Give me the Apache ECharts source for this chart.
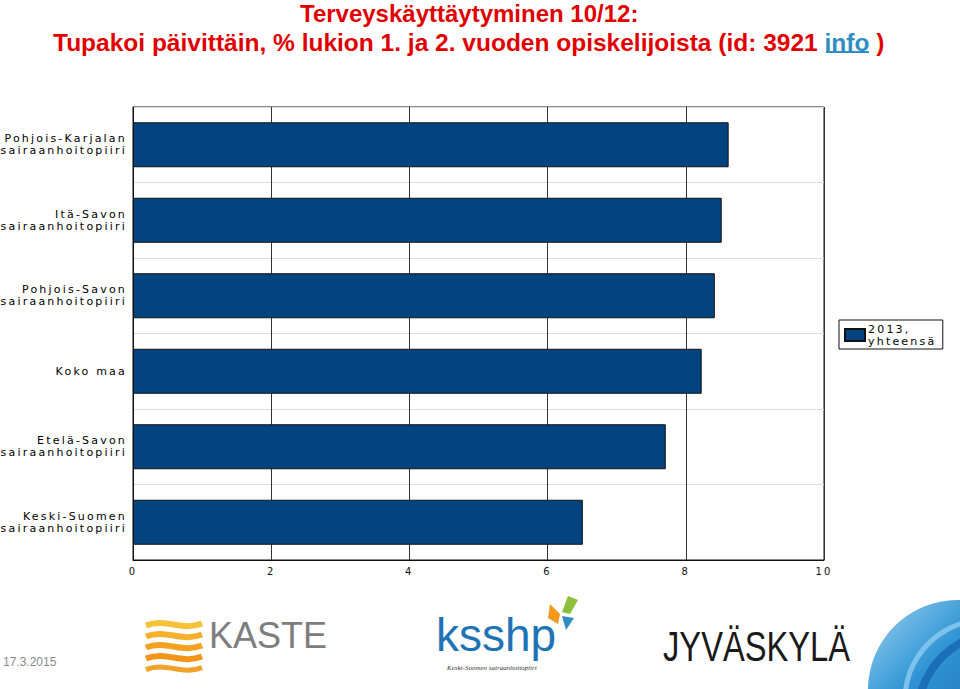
<!DOCTYPE html>
<html>
<head>
<meta charset="utf-8">
<script src="https://cdn.jsdelivr.net/npm/echarts@6/dist/echarts.min.js"></script>
<style>
html,body{margin:0;padding:0;background:#fff;}
#c{width:960px;height:689px;}
#c svg text[style*="DejaVu Sans"]{letter-spacing:2.2px;}
</style>
</head>
<body>
<div id="c"></div>
<script>
var categories = ['Pohjois-Karjalan\nsairaanhoitopiiri', 'Itä-Savon\nsairaanhoitopiiri', 'Pohjois-Savon\nsairaanhoitopiiri', 'Koko maa', 'Etelä-Savon\nsairaanhoitopiiri', 'Keski-Suomen\nsairaanhoitopiiri'];
var values = [8.62, 8.52, 8.42, 8.23, 7.71, 6.51];
var seriesName = '2013,\nyhteensä';
var xTicks = [0, 2, 4, 6, 8, 10];

var chart = echarts.init(document.getElementById('c'), null, {renderer: 'svg'});
var t1Font = 'bold 24px "Liberation Sans", Arial, sans-serif';
var t2Font = 'bold 24.5px "Liberation Sans", Arial, sans-serif';
var option = {
  animation: false,
  backgroundColor: '#ffffff',
  grid: {left: 133, right: 136, top: 107, bottom: 129, show: true, borderColor: '#111', borderWidth: 1, backgroundColor: 'transparent'},
  legend: {
    left: 839, top: 320, orient: 'vertical',
    borderColor: '#111', borderWidth: 1, padding: [3, 24, 2, 5],
    itemWidth: 20, itemHeight: 12, itemGap: 0, icon: 'rect',
    textStyle: {fontFamily: 'DejaVu Sans', fontSize: 11, lineHeight: 12, color: '#000', padding: [0, 0, 0, -2]},
    data: [seriesName]
  },
  xAxis: {
    type: 'value', min: xTicks[0], max: xTicks[xTicks.length - 1], interval: 2,
    axisLine: {show: true, lineStyle: {color: '#111', width: 1}},
    axisTick: {show: false},
    axisLabel: {fontFamily: 'DejaVu Sans', fontSize: 10, color: '#111', margin: 6},
    splitLine: {show: true, lineStyle: {color: '#333', width: 1}}
  },
  yAxis: {
    type: 'category', inverse: true, data: categories,
    axisLine: {show: true, lineStyle: {color: '#111', width: 1}},
    axisTick: {show: false},
    axisLabel: {fontFamily: 'DejaVu Sans', fontSize: 11, lineHeight: 12, color: '#000', margin: 6, align: 'right'},
    splitLine: {show: true, lineStyle: {color: '#dddddd', width: 1}}
  },
  series: [{
    name: seriesName, type: 'bar', data: values, barWidth: 45,
    itemStyle: {color: '#03437f', borderColor: '#111', borderWidth: 1}
  }],
  graphic: [
    {type: 'text', left: 300, top: 1, z: 10, style: {text: 'Terveyskäyttäytyminen 10/12:', font: t1Font, fill: '#e00000'}},
    {type: 'text', left: 53, top: 30, z: 10, style: {
      text: '{r|Tupakoi päivittäin, % lukion 1. ja 2. vuoden opiskelijoista (id: 3921 }{i|info}{r| )}',
      font: t2Font,
      rich: {r: {font: t2Font, fill: '#e00000'}, i: {font: t2Font, fill: '#2f8dc2'}}
    }},
    {type: 'line', z: 10, shape: {x1: 826, y1: 52, x2: 869, y2: 52}, style: {stroke: '#2f8dc2', lineWidth: 2}},
    {type: 'text', left: 3, top: 656, style: {text: '17.3.2015', font: '12px "Liberation Sans", Arial', fill: '#8a8a8a'}},
    {type: 'group', left: 143, top: 620, children: [
      {type: 'bezierCurve', shape: {x1: 0, y1: 4, cpx1: 20, cpy1: -4, cpx2: 35, cpy2: 10, x2: 56, y2: 2}, style: {stroke: '#f7c23a', lineWidth: 6, fill: null}},
      {type: 'bezierCurve', shape: {x1: 0, y1: 15, cpx1: 20, cpy1: 7, cpx2: 35, cpy2: 21, x2: 56, y2: 13}, style: {stroke: '#f6b12c', lineWidth: 6, fill: null}},
      {type: 'bezierCurve', shape: {x1: 0, y1: 26, cpx1: 20, cpy1: 18, cpx2: 35, cpy2: 32, x2: 56, y2: 24}, style: {stroke: '#f4a11f', lineWidth: 6, fill: null}},
      {type: 'bezierCurve', shape: {x1: 0, y1: 37, cpx1: 20, cpy1: 29, cpx2: 35, cpy2: 43, x2: 56, y2: 35}, style: {stroke: '#f29418', lineWidth: 6, fill: null}},
      {type: 'bezierCurve', shape: {x1: 0, y1: 48, cpx1: 20, cpy1: 40, cpx2: 35, cpy2: 54, x2: 56, y2: 46}, style: {stroke: '#f0a22a', lineWidth: 5, fill: null}}
    ]},
    {type: 'text', left: 209, top: 617, style: {text: 'KASTE', font: '36px "Liberation Sans", Arial', fill: '#7d7d7d'}},
    {type: 'text', left: 436, top: 612, style: {text: 'ksshp', font: '46px "Liberation Sans", Arial', fill: '#1d73b6'}},
    {type: 'polygon', shape: {points: [[562, 612], [568, 596], [578, 600], [570, 614]]}, style: {fill: '#8dbf3c'}},
    {type: 'polygon', shape: {points: [[560, 614], [550, 604], [548, 618], [558, 624]]}, style: {fill: '#f39a1e'}},
    {type: 'polygon', shape: {points: [[562, 616], [574, 618], [566, 630]]}, style: {fill: '#2f8dc2'}},
    {type: 'text', left: 447, top: 664, style: {text: 'Keski-Suomen sairaanhoitopiiri', font: 'italic 7px "Liberation Serif", serif', fill: '#333'}},
    {type: 'text', x: 663, y: 624, scaleX: 0.76, style: {text: 'JYVÄSKYLÄ', font: '43px "Liberation Sans", Arial', fill: '#1a1a1a'}},
    {type: 'circle', shape: {cx: 958, cy: 690, r: 90}, style: {fill: new echarts.graphic.LinearGradient(0, 0, 1, 1, [{offset: 0, color: '#9fd3f0'}, {offset: 0.35, color: '#2f94d4'}, {offset: 1, color: '#0a4f97'}])}},
    {type: 'circle', shape: {cx: 985, cy: 700, r: 80}, style: {fill: null, stroke: '#7cc2ec', lineWidth: 5}},
    {type: 'circle', shape: {cx: 1000, cy: 715, r: 82}, style: {fill: null, stroke: '#1b6fb6', lineWidth: 8}}
  ]
};
chart.setOption(option);
</script>
</body>
</html>
